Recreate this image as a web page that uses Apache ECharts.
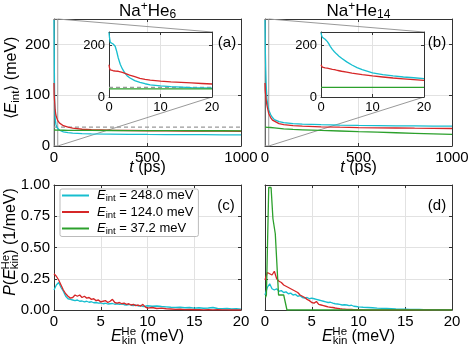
<!DOCTYPE html>
<html>
<head>
<meta charset="utf-8">
<script src="https://cdn.jsdelivr.net/npm/echarts@6/dist/echarts.min.js"></script>
<style>
  html, body { margin: 0; padding: 0; background: #fff; }
  #chart { width: 468px; height: 349px; }
</style>
</head>
<body>
<div id="chart"></div>
<script>
// time axis (ps) for the long runs and for the zoomed insets
const tMain = [0, 1, 2, 4, 6, 10, 15, 20, 30, 40, 50, 75, 100, 150, 200, 300, 400, 500, 600, 700, 800, 900, 1000]
const tInset = [0, 0.1, 0.25, 0.5, 0.8, 1.2, 1.5, 1.8, 2.2, 2.6, 3, 3.5, 4, 5, 6, 7, 8, 10, 12, 14, 16, 18, 20]

// Na+He6, <E_int> (meV)
const cyanMainA = [248, 200, 145, 74, 56, 43, 37, 34, 31, 29, 28, 26.5, 25.5, 24.5, 24, 23.5, 23, 22.7, 22.5, 22.3, 22.2, 22, 22]
const redMainA = [124, 101, 99, 84, 72, 61, 55, 50, 45, 42, 40, 37, 35, 33, 32, 31, 30.5, 30, 29.7, 29.5, 29.3, 29.1, 29]
const greenMainA = [31.5, 31.5, 31.5, 31.4, 31.4, 31.3, 31.3, 31.2, 31.1, 31, 31, 30.9, 30.8, 30.7, 30.6, 30.5, 30.4, 30.3, 30.2, 30.1, 30, 30, 29.9]
const cyanInsetA = [248, 228, 210, 206, 204, 195, 175, 150, 125, 108, 95, 82, 74, 63, 56, 51, 47, 43, 40, 38, 36, 35, 34]
const redInsetA = [124, 112, 104, 102, 101, 100, 100, 99, 97, 95, 92, 88, 84, 78, 72, 68, 65, 61, 58, 56, 54, 52, 50]
const greenInsetA = [31.6, 31.6, 31.6, 31.6, 31.6, 31.6, 31.6, 31.6, 31.6, 31.6, 31.6, 31.6, 31.5, 31.5, 31.5, 31.5, 31.5, 31.4, 31.4, 31.4, 31.3, 31.3, 31.2]
const thresholdA = 37.2

// Na+He14, <E_int> (meV)
const cyanMainB = [248, 214, 183, 149, 123, 93, 81, 71, 62, 56, 52, 48, 46, 44, 43, 42, 41.2, 40.6, 40.2, 39.8, 39.5, 39.2, 39]
const redMainB = [124, 111, 106, 99, 92, 81, 72, 64, 56, 51, 48, 44, 42, 40, 39, 37.8, 37, 36.3, 35.8, 35.4, 35, 34.7, 34.4]
const greenMainB = [37, 37, 37, 37, 37, 36.9, 36.8, 36.7, 36.4, 36, 35.6, 34.6, 33.6, 32.6, 31.9, 30.6, 29.5, 28.3, 27.2, 26.1, 25, 24, 23]
const cyanInsetB = [248, 238, 230, 226, 222, 214, 205, 195, 183, 174, 166, 157, 149, 135, 123, 113, 105, 93, 86, 81, 77, 74, 71]
const redInsetB = [124, 118, 115, 113, 112, 111, 109, 108, 106, 105, 103, 101, 99, 96, 92, 89, 86, 81, 77, 73, 70, 67, 64]
const greenInsetB = [37, 37, 37, 37, 37, 37, 37, 37, 37, 37, 37, 37, 37, 37, 37, 37, 37, 36.9, 36.9, 36.8, 36.8, 36.7, 36.7]

// zoom window drawn on the main panels
const zoomBoxT = [0, 20, 20, 0, 0]
const zoomBoxE = [0, 0, 250, 250, 0]

// He kinetic energy distributions, P (1/meV)
const eKin = [0, 0.25, 0.5, 0.75, 1, 1.25, 1.5, 1.75, 2, 2.25, 2.5, 2.75, 3, 3.25, 3.5, 3.75, 4, 4.25, 4.5, 4.75,
  5, 5.25, 5.5, 5.75, 6, 6.25, 6.5, 6.75, 7, 7.25, 7.5, 7.75, 8, 8.25, 8.5, 8.75, 9, 9.25, 9.5, 9.75, 10,
  10.5, 11, 11.5, 12, 12.5, 13, 13.5, 14, 14.5, 15, 15.5, 16, 16.5, 17, 17.5, 18, 18.5, 19, 19.5, 20]
const cyanC = [0.16, 0.20, 0.22, 0.18, 0.15, 0.11, 0.09, 0.085, 0.08, 0.075, 0.08, 0.07, 0.072, 0.065, 0.07, 0.062, 0.066, 0.058, 0.06, 0.055,
  0.056, 0.05, 0.054, 0.048, 0.05, 0.052, 0.046, 0.05, 0.045, 0.048, 0.042, 0.04, 0.044, 0.038, 0.035, 0.04, 0.032, 0.036, 0.028, 0.03, 0.034,
  0.03, 0.032, 0.028, 0.025, 0.022, 0.02, 0.022, 0.018, 0.02, 0.015, 0.018, 0.014, 0.016, 0.02, 0.012, 0.01, 0.012, 0.008, 0.01, 0.006]
const redC = [0.29, 0.27, 0.24, 0.2, 0.16, 0.13, 0.11, 0.095, 0.1, 0.12, 0.11, 0.12, 0.1, 0.11, 0.095, 0.1, 0.085, 0.09, 0.075, 0.08,
  0.065, 0.07, 0.075, 0.06, 0.07, 0.085, 0.06, 0.055, 0.06, 0.05, 0.055, 0.045, 0.05, 0.04, 0.045, 0.035, 0.04, 0.03, 0.045, 0.025, 0.015,
  0.02, 0.012, 0.015, 0.01, 0.008, 0.005, 0.006, 0.003, 0.004, 0.002, 0.003, 0.001, 0.002, 0.001, 0.002, 0.001, 0.001, 0, 0.001, 0]
const greenC = []
const cyanD = [0.12, 0.18, 0.21, 0.17, 0.16, 0.17, 0.15, 0.155, 0.14, 0.145, 0.13, 0.135, 0.12, 0.125, 0.11, 0.115, 0.1, 0.095, 0.1, 0.09,
  0.095, 0.09, 0.085, 0.08, 0.075, 0.07, 0.065, 0.06, 0.062, 0.055, 0.05, 0.048, 0.045, 0.04, 0.042, 0.04, 0.035, 0.038, 0.03, 0.028, 0.025,
  0.022, 0.02, 0.018, 0.015, 0.013, 0.012, 0.01, 0.008, 0.007, 0.006, 0.005, 0.004, 0.004, 0.003, 0.003, 0.002, 0.002, 0.002, 0.001, 0.001]
const redD = [0.24, 0.3, 0.29, 0.28, 0.31, 0.25, 0.23, 0.22, 0.2, 0.19, 0.18, 0.17, 0.16, 0.15, 0.14, 0.12, 0.11, 0.1, 0.085, 0.075,
  0.06, 0.055, 0.068, 0.045, 0.04, 0.035, 0.03, 0.025, 0.022, 0.02, 0.016, 0.013, 0.01, 0.008, 0.007, 0.005, 0.005, 0.004, 0.003, 0.002, 0.002,
  0.001, 0.001, 0, 0, 0, 0, 0, 0, 0, 0, 0, 0, 0, 0, 0, 0, 0, 0, 0, 0]
const greenDx = [0.05, 0.15, 0.4, 0.65, 0.85, 1.1, 1.45, 2.0, 2.35, 2.6, 20]
const greenDy = [0.1, 0.12, 0.98, 0.98, 0.73, 0.61, 0.12, 0.12, 0, 0, 0]

const FONT = 'Liberation Sans'
const frameColor = '#333'
const gridColor = '#e2e2e2'
const CYAN = '#17becf'
const RED = '#d62728'
const GREEN = '#2ca02c'

const grids = [
  { left: 54, top: 19, width: 187, height: 127 }, // (a)
  { left: 265, top: 19, width: 187, height: 127 }, // (b)
  { left: 109, top: 32, width: 103, height: 65, show: true, backgroundColor: '#fff', borderWidth: 0, z: 3 }, // inset (a)
  { left: 321, top: 32, width: 103, height: 65, show: true, backgroundColor: '#fff', borderWidth: 0, z: 3 }, // inset (b)
  { left: 54, top: 185, width: 187, height: 125 }, // (c)
  { left: 265, top: 185, width: 187, height: 125 }, // (d)
].map(g => Object.assign({ containLabel: false, outerBoundsMode: 'none' }, g))

const xAxes = []
const yAxes = []
function addAxes(gi, xr, yr, showY, fs, z) {
  const base = {
    gridIndex: gi, type: 'value', z,
    axisLine: { show: true, onZero: false, lineStyle: { color: frameColor, width: 1 } },
    axisTick: { show: true, inside: true, length: 3, lineStyle: { color: frameColor } },
  }
  const lbl = (show, fmt) => ({ show, margin: 4, fontSize: fs, fontFamily: FONT, color: '#000', formatter: fmt })
  xAxes.push(Object.assign({}, base, {
    position: 'bottom', min: xr[0], max: xr[1], interval: xr[2],
    splitLine: { show: true, lineStyle: { color: gridColor } }, axisLabel: lbl(true, xr[3]),
  }))
  xAxes.push(Object.assign({}, base, {
    position: 'top', min: xr[0], max: xr[1], interval: xr[2],
    splitLine: { show: false }, axisLabel: { show: false },
  }))
  yAxes.push(Object.assign({}, base, {
    position: 'left', min: yr[0], max: yr[1], interval: yr[2],
    splitLine: { show: true, lineStyle: { color: gridColor } }, axisLabel: lbl(showY, yr[3]),
  }))
  yAxes.push(Object.assign({}, base, {
    position: 'right', min: yr[0], max: yr[1], interval: yr[2],
    splitLine: { show: false }, axisLabel: { show: false },
  }))
}
const hund = v => (v % 100 === 0 ? String(v) : '')
const twoHund = v => (v % 200 === 0 ? String(v) : '')
const plain = v => String(v)
const prob = v => v.toFixed(2)
addAxes(0, [0, 1000, 500, plain], [0, 250, 100, hund], true, 15, 0)
addAxes(1, [0, 1000, 500, plain], [0, 250, 100, hund], false, 15, 0)
addAxes(2, [0, 20, 10, plain], [0, 250, 200, twoHund], true, 13, 4)
addAxes(3, [0, 20, 10, plain], [0, 250, 200, twoHund], true, 13, 4)
addAxes(4, [0, 20, 5, plain], [0, 1, 0.25, prob], true, 15, 0)
addAxes(5, [0, 20, 5, plain], [0, 1, 0.25, prob], false, 15, 0)

function line(name, gi, xs, ys, color, z, extra) {
  return Object.assign({
    name, type: 'line', xAxisIndex: 2 * gi, yAxisIndex: 2 * gi,
    data: xs.map((x, i) => [x, ys[i]]),
    showSymbol: false, symbol: 'none', z, silent: true, animation: false,
    lineStyle: { color, width: 1.3 }, itemStyle: { color },
  }, extra || {})
}
const dashed = { lineStyle: { color: '#999', width: 1.2, type: [4, 3] } }
const boxStyle = { lineStyle: { color: '#999', width: 1 } }

const series = [
  line('box', 0, zoomBoxT, zoomBoxE, '#999', 2, boxStyle),
  line('box', 1, zoomBoxT, zoomBoxE, '#999', 2, boxStyle),
  line('thr', 0, [0, 1000], [thresholdA, thresholdA], '#999', 2, dashed),
  line('E248', 0, tMain, cyanMainA, CYAN, 2),
  line('E124', 0, tMain, redMainA, RED, 2),
  line('E37', 0, tMain, greenMainA, GREEN, 2),
  line('E248', 1, tMain, cyanMainB, CYAN, 2),
  line('E124', 1, tMain, redMainB, RED, 2),
  line('E37', 1, tMain, greenMainB, GREEN, 2),
  line('thr', 2, [0, 20], [thresholdA, thresholdA], '#999', 5, dashed),
  line('E248', 2, tInset, cyanInsetA, CYAN, 5),
  line('E124', 2, tInset, redInsetA, RED, 5),
  line('E37', 2, tInset, greenInsetA, GREEN, 5),
  line('E248', 3, tInset, cyanInsetB, CYAN, 5),
  line('E124', 3, tInset, redInsetB, RED, 5),
  line('E37', 3, tInset, greenInsetB, GREEN, 5),
  line('E248', 4, eKin, cyanC, CYAN, 2),
  line('E124', 4, eKin, redC, RED, 2),
  line('E37', 4, greenC, greenC, GREEN, 2),
  line('E248', 5, eKin, cyanD, CYAN, 2),
  line('E124', 5, eKin, redD, RED, 2),
  line('E37', 5, greenDx, greenDy, GREEN, 2),
]

const rich = {
  p: { fontFamily: FONT, fontSize: 16, color: '#000' },
  i: { fontFamily: FONT, fontSize: 16, fontStyle: 'italic', color: '#000' },
  s: { fontFamily: FONT, fontSize: 11.5, color: '#000', padding: [8, 0, 0, 0] },
  u: { fontFamily: FONT, fontSize: 11.5, color: '#000', padding: [0, 0, 10, -15] },
  q: { fontFamily: FONT, fontSize: 15, color: '#000' },
  t: { fontFamily: FONT, fontSize: 17, color: '#000' },
  tsup: { fontFamily: FONT, fontSize: 12, color: '#000', padding: [0, 0, 9, 0] },
  tsub: { fontFamily: FONT, fontSize: 12, color: '#000', padding: [8, 0, 0, 0] },
}
const legendRich = {
  i: { fontFamily: FONT, fontSize: 13, fontStyle: 'italic', color: '#000', padding: [0, 0, 0, 3] },
  s: { fontFamily: FONT, fontSize: 9.5, color: '#000', padding: [6, 0, 0, 0] },
  p: { fontFamily: FONT, fontSize: 13, color: '#000' },
}
const legendText = {
  E248: '{i|E}{s|int}{p| = 248.0 meV}',
  E124: '{i|E}{s|int}{p| = 124.0 meV}',
  E37: '{i|E}{s|int}{p| = 37.2 meV}',
}

function txt(text, x, y, opts) {
  return Object.assign({
    type: 'text', x, y, z: 10, silent: true,
    style: { text, rich, align: 'center', verticalAlign: 'middle', fontFamily: FONT, fontSize: 15, fill: '#000' },
  }, opts || {})
}

const graphics = [
  txt('{t|Na}{tsup|+}{t|He}{tsub|6}', 147.5, 11),
  txt('{t|Na}{tsup|+}{t|He}{tsub|14}', 358.5, 11),
  txt('{q|(a)}', 227, 43),
  txt('{q|(b)}', 437, 43),
  txt('{q|(c)}', 226, 206),
  txt('{q|(d)}', 437, 206),
  txt('{i|t}{p| (ps)}', 147.5, 168),
  txt('{i|t}{p| (ps)}', 358.5, 168),
  txt('{i|E}{s|kin}{u|He}{p| (meV)}', 147.5, 337),
  txt('{i|E}{s|kin}{u|He}{p| (meV)}', 358.5, 337),
  txt('{p|⟨}{i|E}{s|int}{p|⟩ (meV)}', 12, 78, { rotation: Math.PI / 2 }),
  txt('{i|P}{p|(}{i|E}{s|kin}{u|He}{p|) (1/meV)}', 11, 242, { rotation: Math.PI / 2 }),
]

const chart = echarts.init(document.getElementById('chart'), null, { renderer: 'canvas' })
chart.setOption({
  animation: false,
  backgroundColor: '#fff',
  textStyle: { fontFamily: FONT },
  grid: grids,
  xAxis: xAxes,
  yAxis: yAxes,
  legend: {
    data: ['E248', 'E124', 'E37'],
    orient: 'vertical', left: 60, top: 189,
    icon: 'rect', itemWidth: 27, itemHeight: 2, itemGap: 2,
    padding: [0, 5, 0, 2],
    backgroundColor: '#fff', borderColor: '#bbb', borderWidth: 1, borderRadius: 2,
    formatter: n => legendText[n],
    textStyle: { fontFamily: FONT, fontSize: 13, color: '#000', rich: legendRich },
    z: 10,
  },
  series,
  graphic: graphics,
})

// connector lines from the zoom window to the insets
const connectors = []
;[[0, 2], [1, 3]].forEach(([mainIdx, insetIdx]) => {
  const zt = zoomBoxT[1], ztop = zoomBoxE[2]
  const a1 = chart.convertToPixel({ gridIndex: mainIdx }, [zt, ztop])
  const a2 = chart.convertToPixel({ gridIndex: mainIdx }, [zt, 0])
  const b1 = chart.convertToPixel({ gridIndex: insetIdx }, [20, ztop])
  const b2 = chart.convertToPixel({ gridIndex: insetIdx }, [20, 0])
  ;[[a1, b1], [a2, b2]].forEach(([p, q]) => {
    connectors.push({
      type: 'line', z: 1, silent: true,
      shape: { x1: p[0], y1: p[1], x2: q[0], y2: q[1] },
      style: { stroke: '#999', lineWidth: 1 },
    })
  })
})
chart.setOption({ graphic: graphics.concat(connectors) })
</script>
</body>
</html>
